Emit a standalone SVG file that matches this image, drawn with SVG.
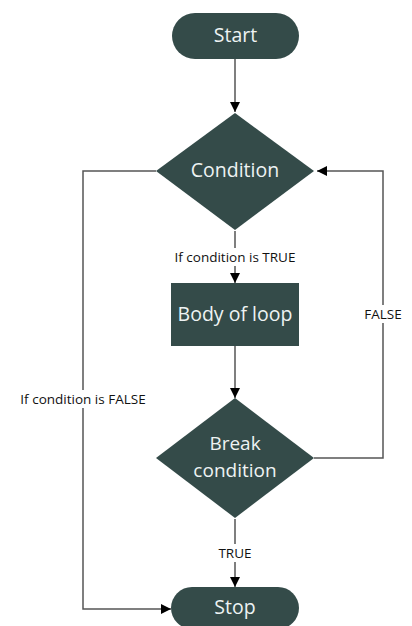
<svg xmlns="http://www.w3.org/2000/svg" width="412" height="626" viewBox="0 0 412 626">
  <defs>
    <marker id="arrow" viewBox="0 0 10 10" refX="10" refY="5" markerWidth="10" markerHeight="10" markerUnits="userSpaceOnUse" orient="auto">
      <path d="M0,0 L10,5 L0,10 Z" fill="#000"/>
    </marker>
    <style>
      .shape { fill: #344b49; }
      .label { font-family: "Open Sans", "Noto Sans", sans-serif; font-size: 19.5px; fill: #eef3f3; text-anchor: middle; }
      .label2 { font-family: "Open Sans", "Noto Sans", sans-serif; font-size: 19px; fill: #eef3f3; text-anchor: middle; }
      .edge { fill: none; stroke: #555; stroke-width: 1.5; }
      .tag { font-family: "Open Sans", "Noto Sans", sans-serif; font-size: 13.5px; fill: #111; text-anchor: middle; }
      .tagbg { fill: #fff; }
    </style>
  </defs>
  <rect width="412" height="626" fill="#fff"/>

  <!-- connectors -->
  <g id="connectors">
    <path class="edge" d="M235,59 L235,112" marker-end="url(#arrow)"/>
    <path class="edge" d="M235,231 L235,283" marker-end="url(#arrow)"/>
    <path class="edge" d="M235,346 L235,398" marker-end="url(#arrow)"/>
    <path class="edge" d="M235,519 L235,587" marker-end="url(#arrow)"/>
    <path class="edge" d="M156,171 L83,171 L83,609 L171,609" marker-end="url(#arrow)"/>
    <path class="edge" d="M314,458 L383,458 L383,171 L317,171" marker-end="url(#arrow)"/>
    <!-- edge labels -->
    <rect class="tagbg" x="168" y="248" width="134" height="18"/>
    <text class="tag" x="235" y="262">If condition is TRUE</text>
    <rect class="tagbg" x="360" y="305" width="46" height="18"/>
    <text class="tag" x="383" y="319">FALSE</text>
    <rect class="tagbg" x="16" y="390" width="134" height="18"/>
    <text class="tag" x="83" y="404">If condition is FALSE</text>
    <rect class="tagbg" x="214" y="544" width="42" height="18"/>
    <text class="tag" x="235" y="558">TRUE</text>
  </g>

  <g id="start">
    <rect class="shape" x="172" y="13" width="127" height="46" rx="23"/>
    <text class="label" x="235.5" y="42">Start</text>
  </g>

  <g id="condition">
    <polygon class="shape" points="235,113 314,171 235,230 156,171"/>
    <text class="label" x="235" y="177">Condition</text>
  </g>

  <g id="body">
    <rect class="shape" x="171" y="283" width="128" height="63"/>
    <text class="label" x="235" y="321">Body of loop</text>
  </g>

  <g id="break">
    <polygon class="shape" points="235,398 314,458 235,518 156,458"/>
    <text class="label2" x="235" y="450">Break</text>
    <text class="label2" x="235" y="477">condition</text>
  </g>

  <g id="stop">
    <rect class="shape" x="171" y="587" width="128" height="42" rx="21"/>
    <text class="label" x="235" y="614">Stop</text>
  </g>
</svg>
